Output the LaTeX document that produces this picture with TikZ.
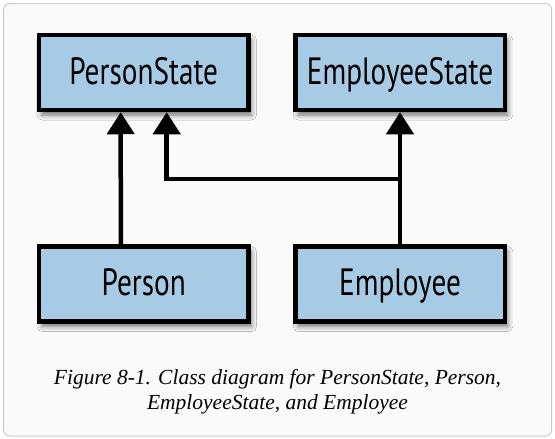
\documentclass[tikz,border=0pt]{standalone}
\usepackage{fontspec}
\setmainfont{Liberation Serif}
\newfontfamily\boxfont[FakeStretch=0.77]{PT Sans}
\usetikzlibrary{arrows.meta,shadows.blur}
\definecolor{boxblue}{RGB}{167,203,228}
\definecolor{framegray}{RGB}{205,205,205}
\definecolor{framefill}{RGB}{250,250,250}
\tikzset{
  classbox/.style={draw=black, line width=4.5pt, fill=boxblue,
    minimum width=209.5pt, minimum height=75pt, inner sep=0pt,
    text height=27pt, text depth=4pt,
    font=\boxfont\fontsize{38}{38}\selectfont,
    blur shadow={shadow xshift=3pt, shadow yshift=-5pt, shadow blur radius=5pt, shadow opacity=55}},
  inh/.style={line width=4.5pt, -{Triangle[width=27pt,length=22pt]}},
  conn/.style={line width=4.5pt}
}
\begin{document}
\begin{tikzpicture}[x=1pt,y=-1pt]
\useasboundingbox (0,0) rectangle (555,439);
\fill[white] (0,0) rectangle (555,439);
\draw[framegray, fill=framefill, line width=1pt, rounded corners=6pt] (3.5,3.5) rectangle (551.5,436);
\node[classbox] (ps) at (143.7,72.5) {PersonState};
\node[classbox] (es) at (400,72.5) {EmployeeState};
\node[classbox] (p) at (143.8,284) {Person};
\node[classbox] (e) at (400,284) {Employee};
\draw[inh] ([xshift=-23pt]p.north) -- ([xshift=-23pt]ps.south);
\draw[inh] (e.north) -- (es.south);
\draw[inh] (e.north) ++(0,-65.5) -| ([xshift=23pt]ps.south);
\node[font=\itshape\fontsize{21.5}{25.5}\selectfont, align=center, anchor=base] (cap) at (277.5,409.5)
  {Figure 8-1. Class diagram for PersonState, Person,\\EmployeeState, and Employee};
\end{tikzpicture}
\end{document}
